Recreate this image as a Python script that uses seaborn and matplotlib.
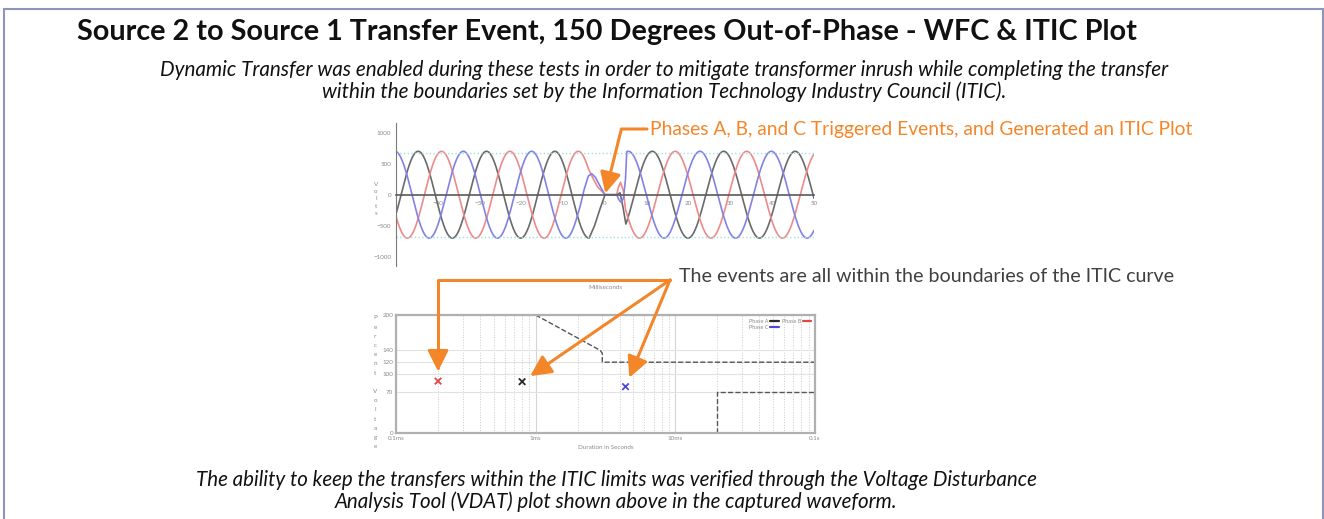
import numpy as np
import pandas as pd
import matplotlib
matplotlib.use("Agg")
import matplotlib.pyplot as plt
import seaborn as sns
from matplotlib.patches import Rectangle
from matplotlib.lines import Line2D
from matplotlib.ticker import MultipleLocator, FixedLocator, NullFormatter


sns.set_style("white")
plt.rcParams['font.family'] = ['Lato', 'DejaVu Sans']

W, H = 1324, 519
ORANGE = '#F4862A'

# --- waveform capture (ms / volts) ---
phases = ['Phase A', 'Phase B', 'Phase C']
wave_colors = ['#6a6a6a', '#ee8a8a', '#8282e6']
amplitude_v = 700
period_pre_ms = 16.35          # source 2
period_post_ms = 17.1          # source 1
peak_pre_ms = [-44.7, -39.1, -33.9]
peak_post_ms = [11.3, 16.8, 5.6]
pre_end_ms = [-3.8, -4.0, -7.0]
post_start_ms = [5.0, 4.9, 5.2]

# transfer transient, hand read
a_trans_ms = [-2.5, -1.2, 0.0, 2.8, 3.6, 4.3]
a_trans_v = [-500, -230, 0, 0, 30, -200]
b_trans_ms = [-3.0, -1.8, 0.0, 2.8, 3.2, 3.7, 4.4]
b_trans_v = [280, 130, 0, 0, 120, 200, 60]
c_trans_ms = [-6.0, -5.0, -4.0, -3.2, -2.3, -1.2, 0.0, 2.8, 3.3, 3.8, 4.4, 4.9]
c_trans_v = [-200, 80, 300, 340, 280, 140, 0, 0, -80, -120, -60, 250]

wave_ref_v = [680, -690]
wave_xticks = [-40, -30, -20, -10, 0, 10, 20, 30, 40, 50]
wave_yticks = [1000, 500, 0, -500, -1000]

# --- ITIC plot ---
itic_upper_s = [1e-3, 2.9e-3, 3e-3, 3e-3, 0.1]
itic_upper_pct = [200, 140, 135, 120, 120]
itic_lower_s = [0.02, 0.02, 0.1]
itic_lower_pct = [0, 70, 70]
event_phase = ['Phase B', 'Phase A', 'Phase C']
event_dur_s = [2.0e-4, 8.0e-4, 4.4e-3]
event_pct = [88, 87, 78.5]
event_colors = {'Phase A': '#2a2a2a', 'Phase B': '#e04848', 'Phase C': '#4a4ad8'}
itic_yticks = [0, 70, 100, 120, 140, 200]
itic_xticks = [1e-4, 1e-3, 1e-2, 1e-1]
itic_xlabels = ['0.1ms', '1ms', '10ms', '0.1s']

title = 'Source 2 to Source 1 Transfer Event, 150 Degrees Out-of-Phase - WFC & ITIC Plot'
subtitle = ['Dynamic Transfer was enabled during these tests in order to mitigate transformer inrush while completing the transfer',
            'within the boundaries set by the Information Technology Industry Council (ITIC).']
caption = ['The ability to keep the transfers within the ITIC limits was verified through the Voltage Disturbance',
           'Analysis Tool (VDAT) plot shown above in the captured waveform.']


def fx(x):
    return x / W


def fy(y):
    return 1 - y / H


trans_ms = [a_trans_ms, b_trans_ms, c_trans_ms]
trans_v = [a_trans_v, b_trans_v, c_trans_v]
frames = []
for i, ph in enumerate(phases):
    t_pre = np.linspace(-50, pre_end_ms[i], 500)
    v_pre = amplitude_v * np.cos(2 * np.pi * (t_pre - peak_pre_ms[i]) / period_pre_ms)
    t_post = np.linspace(post_start_ms[i], 50, 500)
    v_post = amplitude_v * np.cos(2 * np.pi * (t_post - peak_post_ms[i]) / period_post_ms)
    t = np.concatenate([t_pre, trans_ms[i], t_post])
    v = np.concatenate([v_pre, trans_v[i], v_post])
    frames.append(pd.DataFrame({'ms': t, 'volts': v, 'phase': ph}))
wave = pd.concat(frames, ignore_index=True)

fig = plt.figure(figsize=(W / 100, H / 100), dpi=100)

# slide frame
fig.add_artist(Rectangle((fx(4), fy(530)), fx(1319), (530 - 9) / H, transform=fig.transFigure,
                         fill=False, edgecolor='#8E95BA', lw=1.5))

fig.text(fx(607), fy(32), title, ha='center', va='center', fontsize=20.7, fontweight='bold', color='#111111')
for line, y in zip(subtitle, [70, 92]):
    fig.text(fx(664), fy(y), line, ha='center', va='center', fontsize=14.9, style='italic', color='#111111')
for line, y in zip(caption, [480, 502]):
    fig.text(fx(616), fy(y), line, ha='center', va='center', fontsize=14.8, style='italic', color='#111111')

# ---------- waveform ----------
ax1 = fig.add_axes([fx(396), fy(266), fx(418), 142.6 / H])
sns.lineplot(data=wave, x='ms', y='volts', hue='phase', palette=wave_colors, sort=False,
             estimator=None, legend=False, lw=1.2, ax=ax1)
for ref in wave_ref_v:
    ax1.axhline(ref, color='#9fdede', ls=':', lw=1)
ax1.set_xlim(-50, 50)
ax1.set_ylim(-1150, 1150)
ax1.spines['bottom'].set_position(('data', 0))
ax1.spines['bottom'].set_color('#5a5a5a')
ax1.spines['bottom'].set_linewidth(1.2)
ax1.spines['left'].set_color('#7a7a7a')
ax1.spines['top'].set_visible(False)
ax1.spines['right'].set_visible(False)
ax1.xaxis.set_major_locator(FixedLocator(wave_xticks))
ax1.xaxis.set_minor_locator(MultipleLocator(1))
ax1.yaxis.set_major_locator(FixedLocator(wave_yticks))
ax1.yaxis.set_minor_locator(MultipleLocator(50))
ax1.tick_params(axis='x', which='major', direction='inout', length=5, width=1, color='#5a5a5a',
                labelsize=4.5, labelcolor='#8a8a8a', pad=2)
ax1.tick_params(axis='x', which='minor', direction='inout', length=4, width=1, color='#5a5a5a')
ax1.tick_params(axis='y', which='major', direction='inout', length=5, width=1, color='#7a7a7a',
                labelsize=4.5, labelcolor='#8a8a8a', pad=1)
ax1.tick_params(axis='y', which='minor', direction='inout', length=3, width=0.8, color='#7a7a7a')
ax1.set_xlabel('')
ax1.set_ylabel('V\no\nl\nt\ns', rotation=0, fontsize=4.5, color='#8a8a8a', va='center', linespacing=1.6)
ax1.yaxis.set_label_coords(-0.048, 0.47)
ax1.text(0.5, -0.15, 'Milliseconds', transform=ax1.transAxes, ha='center', va='center',
         fontsize=4.5, color='#8a8a8a')
ax1.patch.set_alpha(0)

# ---------- ITIC ----------
ax2 = fig.add_axes([fx(396), fy(433), fx(419), 118 / H])
events = pd.DataFrame({'dur': event_dur_s, 'pct': event_pct, 'phase': event_phase})
sns.lineplot(x=itic_upper_s, y=itic_upper_pct, sort=False, estimator=None, color='#555555',
             ls='--', lw=1, ax=ax2)
sns.lineplot(x=itic_lower_s, y=itic_lower_pct, sort=False, estimator=None, color='#555555',
             ls='--', lw=1, ax=ax2)
sns.scatterplot(data=events, x='dur', y='pct', hue='phase', palette=event_colors, marker='x',
                s=22, linewidth=1.3, legend=False, ax=ax2, zorder=5)
ax2.set_xscale('log')
ax2.set_xlim(1e-4, 0.1)
ax2.set_ylim(0, 200)
ax2.xaxis.set_major_locator(FixedLocator(itic_xticks))
ax2.set_xticklabels(itic_xlabels)
ax2.xaxis.set_minor_formatter(NullFormatter())
ax2.yaxis.set_major_locator(FixedLocator(itic_yticks))
ax2.grid(True, which='major', axis='y', color='#e2e2e2', lw=0.8)
ax2.grid(True, which='major', axis='x', color='#d5d5d5', lw=0.8)
ax2.grid(True, which='minor', axis='x', color='#cccccc', lw=0.7, ls=':')
for s in ax2.spines.values():
    s.set_color('#b0b0b0')
    s.set_linewidth(1.6)
ax2.tick_params(axis='both', which='both', length=0, labelsize=4.5, labelcolor='#8a8a8a', pad=2)
ax2.set_xlabel('Duration in Seconds', fontsize=4.5, color='#8a8a8a', labelpad=3)
ax2.set_ylabel('P\ne\nr\nc\ne\nn\nt\n \nV\no\nl\nt\na\ng\ne', rotation=0, fontsize=4.5,
               color='#8a8a8a', va='center', linespacing=2.05)
ax2.yaxis.set_label_coords(-0.05, 0.43)
# column-major fill, so A/C then B gives rows "A B" and "C"
leg_order = ['Phase A', 'Phase C', 'Phase B']
handles = [Line2D([], [], color=event_colors[p], lw=1.6) for p in leg_order]
leg = ax2.legend(handles, leg_order, ncol=2, loc='upper right', frameon=False,
                 fontsize=4, markerfirst=False, handlelength=1.5, handletextpad=0.3,
                 columnspacing=0.6, labelspacing=0.2, borderaxespad=0.3)
for txt in leg.get_texts():
    txt.set_color('#8a8a8a')

# ---------- call-outs ----------
fig.text(fx(650), fy(129), 'Phases A, B, and C Triggered Events, and Generated an ITIC Plot',
         ha='left', va='center', fontsize=13.9, color=ORANGE)
fig.text(fx(679), fy(276), 'The events are all within the boundaries of the ITIC curve',
         ha='left', va='center', fontsize=14.1, color='#404040')

arrow = dict(arrowstyle='-|>,head_length=0.9,head_width=0.45', color=ORANGE, lw=2.2,
             mutation_scale=14, shrinkA=0)
ax1.annotate('', xy=(0, 0), xycoords='data', xytext=(fx(647), fy(129)), textcoords='figure fraction',
             arrowprops=dict(arrow, shrinkB=1, connectionstyle='angle,angleA=0,angleB=76,rad=0'))
for d, p, style in zip(event_dur_s, event_pct,
                       ['angle,angleA=0,angleB=90,rad=0', 'arc3,rad=0', 'arc3,rad=0']):
    ax2.annotate('', xy=(d, p), xycoords='data', xytext=(fx(670), fy(280)), textcoords='figure fraction',
                 arrowprops=dict(arrow, shrinkB=7, connectionstyle=style))

fig.savefig('out.png', dpi=100)
